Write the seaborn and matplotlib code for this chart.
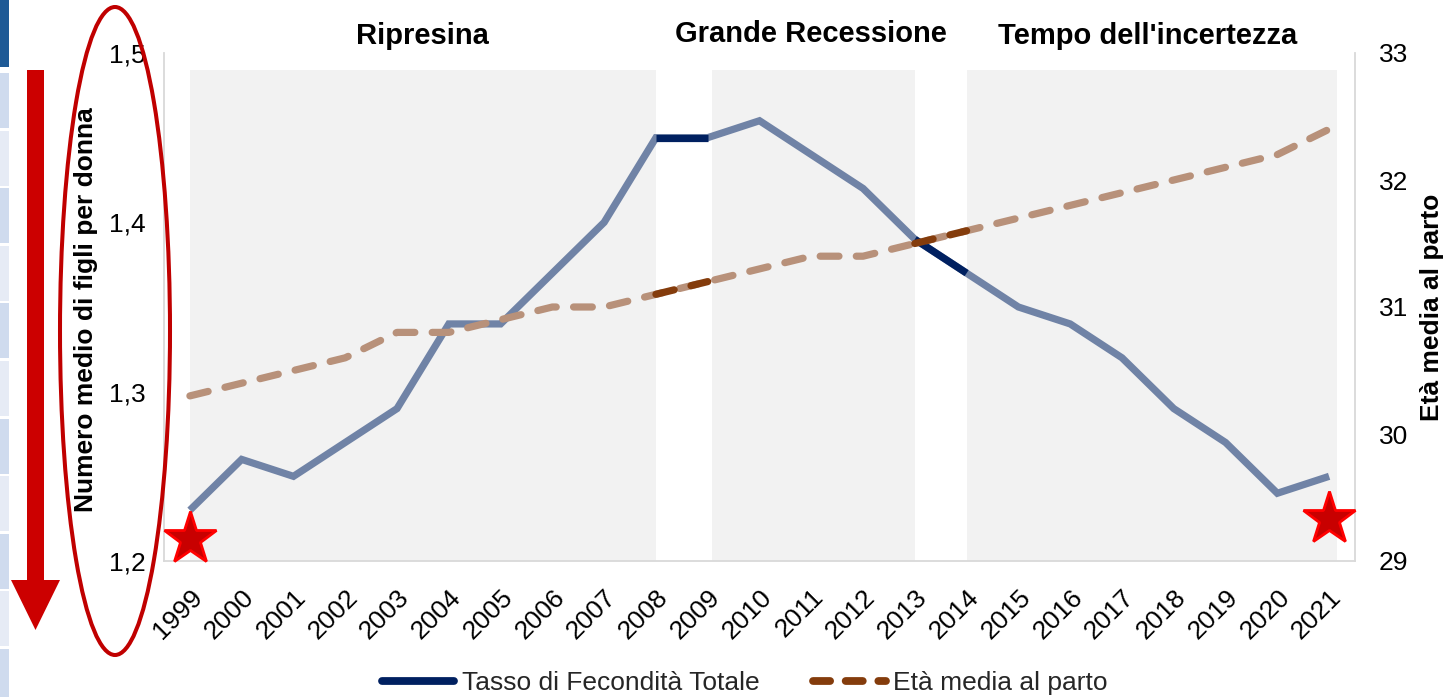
import matplotlib
matplotlib.use("Agg")
import numpy as np
import pandas as pd
import seaborn as sns
import matplotlib.pyplot as plt
import matplotlib.transforms as mtransforms
from matplotlib.patches import Ellipse, FancyArrow, Rectangle
from matplotlib.lines import Line2D

# ---------------- data ----------------
years = ["1999", "2000", "2001", "2002", "2003", "2004", "2005", "2006", "2007",
         "2008", "2009", "2010", "2011", "2012", "2013", "2014", "2015", "2016",
         "2017", "2018", "2019", "2020", "2021"]
tfr = [1.23, 1.26, 1.25, 1.27, 1.29, 1.34, 1.34, 1.37, 1.40, 1.45, 1.45, 1.46,
       1.44, 1.42, 1.39, 1.37, 1.35, 1.34, 1.32, 1.29, 1.27, 1.24, 1.25]
age = [30.3, 30.4, 30.5, 30.6, 30.8, 30.8, 30.9, 31.0, 31.0, 31.1, 31.2, 31.3,
       31.4, 31.4, 31.5, 31.6, 31.7, 31.8, 31.9, 32.0, 32.1, 32.2, 32.4]
highlight_from = ["2008", "2013"]
highlight_to = ["2009", "2014"]
periods = ["Ripresina", "Grande Recessione", "Tempo dell'incertezza"]
period_start = ["1999", "2009", "2014"]
period_end = ["2008", "2013", "2021"]
left_ticks = [1.2, 1.3, 1.4, 1.5]
right_ticks = [29, 30, 31, 32, 33]
star_years = ["1999", "2021"]
star_values = [1.2127, 1.2248]
series_labels = ["Tasso di Fecondità Totale", "Età media al parto"]

# ---------------- style ----------------
sns.set_theme(style="white")
plt.rcParams["font.family"] = ["Liberation Sans", "DejaVu Sans"]

NAVY_LIGHT = "#7083A6"
NAVY = "#002060"
BROWN_LIGHT = "#B8917A"
BROWN = "#843C0C"
BAND = "#F2F2F2"
SPINE = "#D9D9D9"
LW = 5.2
DASH = (0, (2.6, 2.4))

df = pd.DataFrame({"pos": np.arange(len(years)), "anno": years, "tfr": tfr, "age": age})
idx = {y: i for i, y in enumerate(years)}

fig = plt.figure(figsize=(14.49, 6.97), dpi=100)
ax = fig.add_axes([164 / 1449, 1 - 561 / 697, 1191 / 1449, 508 / 697])
ax2 = ax.twinx()

# bands
for k, (s, e) in enumerate(zip(period_start, period_end)):
    x0 = idx[s] + (0.08 if k == 1 else 0.0)
    x1 = idx[e] + (0.15 if k == len(periods) - 1 else 0.0)
    ax.axvspan(x0, x1, ymin=0, ymax=0.967, color=BAND, lw=0, zorder=0)
    ax.text((idx[s] + idx[e]) / 2, 1.034 + (0.004 if k == 1 else 0), periods[k],
            transform=mtransforms.blended_transform_factory(ax.transData, ax.transAxes),
            ha="center", va="center", fontsize=21, fontweight="bold", color="black")

# TFR line
sns.lineplot(data=df, x="pos", y="tfr", ax=ax, color=NAVY_LIGHT, lw=LW,
             solid_capstyle="butt", solid_joinstyle="miter", zorder=3)
for a, b in zip(highlight_from, highlight_to):
    sub = df.iloc[idx[a]:idx[b] + 1]
    sns.lineplot(data=sub, x="pos", y="tfr", ax=ax, color=NAVY, lw=LW,
                 solid_capstyle="butt", zorder=4)

# age line
sns.lineplot(data=df, x="pos", y="age", ax=ax2, color=BROWN_LIGHT, lw=LW,
             linestyle=DASH, dash_capstyle="round", zorder=3)
for a, b in zip(highlight_from, highlight_to):
    sub = df.iloc[idx[a]:idx[b] + 1]
    sns.lineplot(data=sub, x="pos", y="age", ax=ax2, color=BROWN, lw=LW,
                 linestyle=DASH, dash_capstyle="round", zorder=4)

# stars
ax2.plot([idx[y] for y in star_years], star_values, transform=ax.transData,
         marker="*", ms=40, mfc="#C80000", mec="#FF0000", mew=2.0, ls="none",
         clip_on=False, zorder=10)

# axes
ax.set_xlim(-0.5, len(years) - 0.5)
ax.set_ylim(1.2, 1.5)
ax2.set_ylim(29, 33)
ax.set_xticks(df["pos"])
ax.set_xticklabels(years, rotation=45, ha="right", va="top", rotation_mode="anchor")
ax.set_yticks(left_ticks)
ax.set_yticklabels([f"{v:.1f}".replace(".", ",") for v in left_ticks])
ax2.set_yticks(right_ticks)
ax2.set_yticklabels([str(v) for v in right_ticks])
ax.tick_params(axis="x", length=0, pad=17, labelsize=19, labelcolor="black")
ax.tick_params(axis="y", length=0, pad=13, labelsize=19, labelcolor="black")
ax2.tick_params(axis="y", length=0, pad=17, labelsize=19, labelcolor="black")
ax.set_xlabel("")
ax.set_ylabel("")
ax2.set_ylabel("")
ax.grid(False)
ax2.grid(False)
for sp in ["top", "right"]:
    ax.spines[sp].set_visible(False)
for sp in ["top", "left", "bottom"]:
    ax2.spines[sp].set_visible(False)
for sp, a in [("left", ax), ("bottom", ax), ("right", ax2)]:
    a.spines[sp].set_color(SPINE)
    a.spines[sp].set_linewidth(1.3)

fig.text(86 / 1449, 1 - 310 / 697, "Numero medio di figli per donna", rotation=90,
         ha="center", va="center", fontsize=19, fontweight="bold", color="black")
fig.text(1432 / 1449, 1 - 307 / 697, "Età media al parto", rotation=90,
         ha="center", va="center", fontsize=19, fontweight="bold", color="black")

# legend
handles = [Line2D([0], [0], color=NAVY, lw=LW + 0.4, solid_capstyle="round"),
           Line2D([0], [0], color=BROWN, lw=LW + 0.4, linestyle=(0, (2.2, 2.0)),
                  dash_capstyle="round")]
fig.legend(handles, series_labels, loc="center", bbox_to_anchor=(0.514, 0.02), ncol=2,
           frameon=False, fontsize=19, handlelength=2.76, handletextpad=0.3,
           columnspacing=2.0)

# decorations (slide annotations)
tr = fig.dpi_scale_trans
fig.add_artist(Rectangle((0, 6.30), 0.09, 0.67, transform=tr, color="#1E5A96", lw=0))
y_top = 73
k = 0
while y_top < 697:
    h = min(55, 697 - y_top)
    fig.add_artist(Rectangle((0, (697 - y_top - h) / 100), 0.09, h / 100, transform=tr,
                             color="#CFDBEE" if k % 2 == 0 else "#E6EBF5", lw=0))
    y_top += 57.6
    k += 1
fig.add_artist(FancyArrow(0.355, 6.27, 0, -5.6, width=0.17, head_width=0.49,
                          head_length=0.5, length_includes_head=True,
                          color="#CC0000", lw=0, transform=tr))
fig.add_artist(Ellipse((1.15, (697 - 331) / 100), 1.10, 6.48, transform=tr,
                       fill=False, edgecolor="#C00000", lw=2.9))

fig.savefig("out.png", dpi=100)
